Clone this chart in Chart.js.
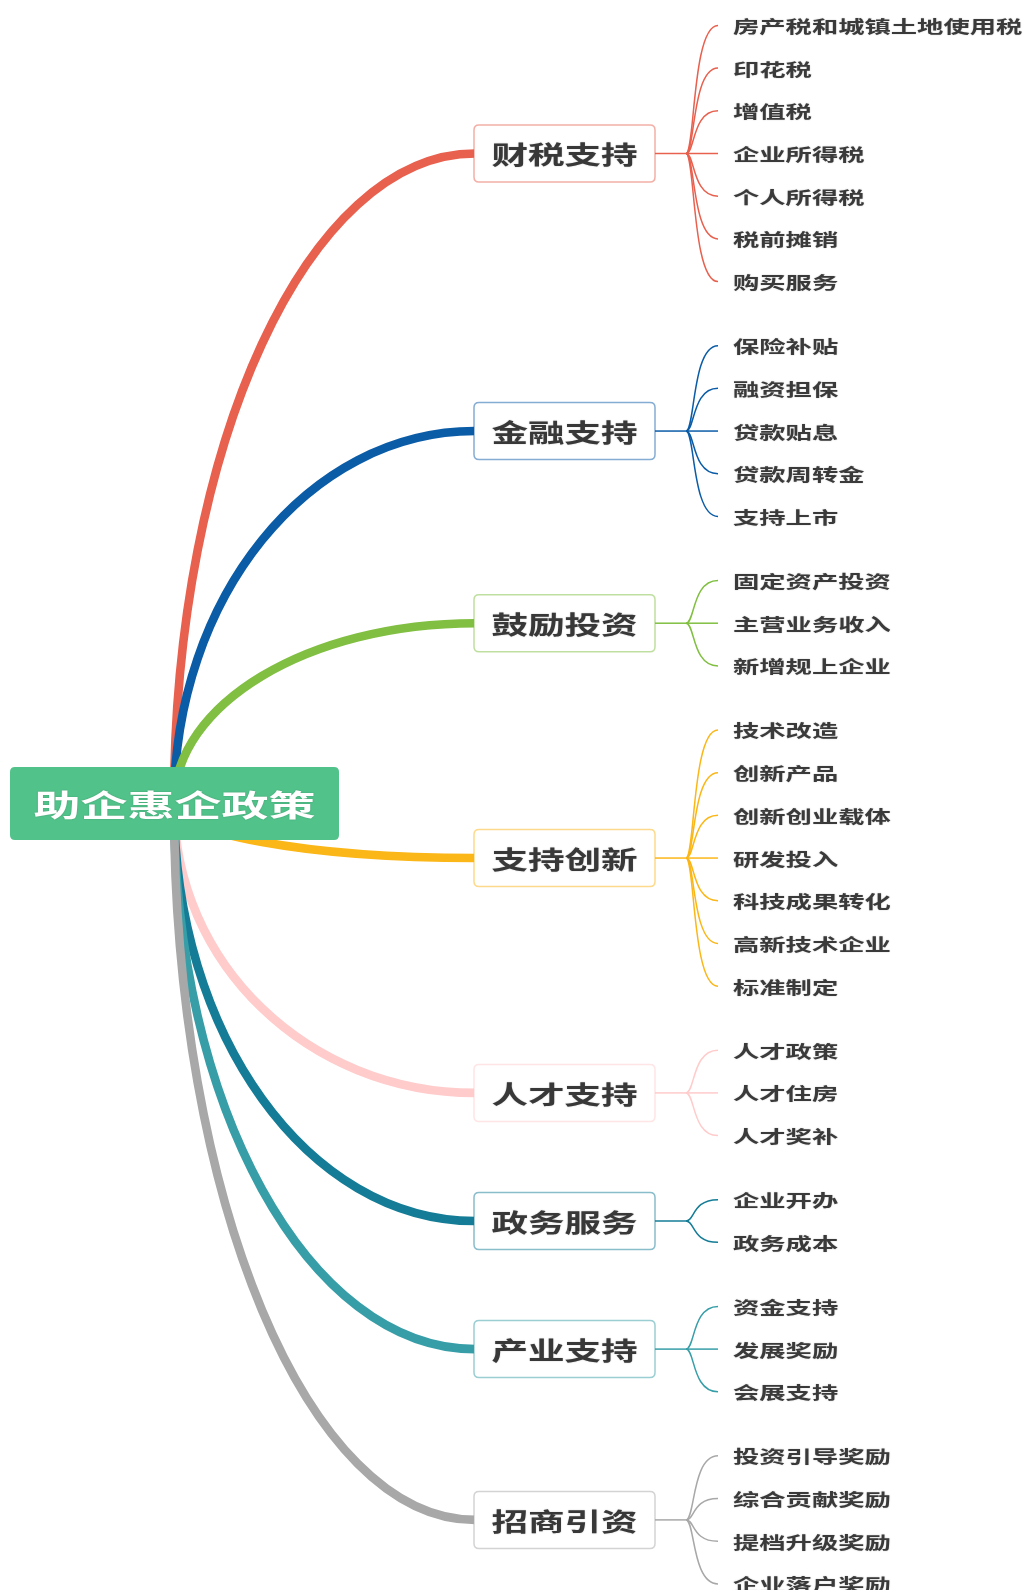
<!DOCTYPE html>
<html>
<head>
<meta charset="utf-8">
<script src="https://cdn.jsdelivr.net/npm/chart.js@4/dist/chart.umd.min.js"></script>
<style>
html,body{margin:0;padding:0;background:#ffffff;}
#wrap{width:1028px;height:1590px;position:relative;}
</style>
</head>
<body>
<div id="wrap"><canvas id="c" width="1028" height="1590"></canvas></div>
<script>
// ---- data ----
const rootLabel = '助企惠企政策';
const branchLabels = ['财税支持', '金融支持', '鼓励投资', '支持创新', '人才支持', '政务服务', '产业支持', '招商引资'];
const branchColors = ['#e8604e', '#0b5ca7', '#80bf41', '#fbb617', '#ffcbcb', '#147c96', '#379ea8', '#a8a8a8'];
const leaves1 = ['房产税和城镇土地使用税', '印花税', '增值税', '企业所得税', '个人所得税', '税前摊销', '购买服务'];
const leaves2 = ['保险补贴', '融资担保', '贷款贴息', '贷款周转金', '支持上市'];
const leaves3 = ['固定资产投资', '主营业务收入', '新增规上企业'];
const leaves4 = ['技术改造', '创新产品', '创新创业载体', '研发投入', '科技成果转化', '高新技术企业', '标准制定'];
const leaves5 = ['人才政策', '人才住房', '人才奖补'];
const leaves6 = ['企业开办', '政务成本'];
const leaves7 = ['资金支持', '发展奖励', '会展支持'];
const leaves8 = ['投资引导奖励', '综合贡献奖励', '提档升级奖励', '企业落户奖励'];
const leafGroups = [leaves1, leaves2, leaves3, leaves4, leaves5, leaves6, leaves7, leaves8];

// ---- layout (in scale units) ----
const L = {
  rootX0: 10, rootX1: 339, rootY0: 767, rootY1: 840,
  curveStartX: 174,
  boxX0: 474, boxX1: 655, boxH: 57,
  junctionX: 686, leafEndX: 718, leafTextX: 733,
  leafTop: 25.4, leafStep: 42.7, groupExtra: 0.5
};

function computeLayout() {
  let row = 0;
  const groups = [];
  leafGroups.forEach(g => {
    const ys = [];
    g.forEach(() => { ys.push(L.leafTop + row * L.leafStep); row++; });
    row += L.groupExtra;
    groups.push({ ys: ys, by: (ys[0] + ys[ys.length - 1]) / 2 });
  });
  return groups;
}

function hexA(hex, a) {
  const n = parseInt(hex.slice(1), 16);
  return `rgba(${(n >> 16) & 255},${(n >> 8) & 255},${n & 255},${a})`;
}

const FONT = '"Noto Sans CJK SC", "Noto Sans", sans-serif';

function drawText(ctx, t, px, py, size, color, sx, align) {
  ctx.save();
  ctx.font = `bold ${size}px ${FONT}`;
  ctx.fillStyle = color;
  ctx.textBaseline = 'middle';
  ctx.textAlign = 'left';
  const w = ctx.measureText(t).width * sx;
  const left = align === 'center' ? px - w / 2 : px;
  ctx.translate(left, py);
  ctx.scale(sx, 1);
  ctx.shadowColor = 'rgba(0,0,0,0.25)';
  ctx.shadowBlur = 1.5;
  ctx.fillText(t, 0, 0);
  ctx.restore();
}

function roundRect(ctx, x0, y0, x1, y1, r) {
  ctx.beginPath();
  ctx.moveTo(x0 + r, y0);
  ctx.lineTo(x1 - r, y0);
  ctx.quadraticCurveTo(x1, y0, x1, y0 + r);
  ctx.lineTo(x1, y1 - r);
  ctx.quadraticCurveTo(x1, y1, x1 - r, y1);
  ctx.lineTo(x0 + r, y1);
  ctx.quadraticCurveTo(x0, y1, x0, y1 - r);
  ctx.lineTo(x0, y0 + r);
  ctx.quadraticCurveTo(x0, y0, x0 + r, y0);
  ctx.closePath();
}

const mindmap = {
  id: 'mindmap',
  afterDraw(chart) {
    const ctx = chart.ctx;
    const xs = chart.scales.x, ys = chart.scales.y;
    const X = v => xs.getPixelForValue(v);
    const Y = v => ys.getPixelForValue(v);
    const groups = computeLayout();
    const k = 0.5523;
    const sx0 = X(L.curveStartX), sy0 = Y((L.rootY0 + L.rootY1) / 2);

    // main branch curves (quarter ellipse)
    ctx.save();
    ctx.lineCap = 'butt';
    groups.forEach((g, i) => {
      const ex = X(L.boxX0), ey = Y(g.by);
      ctx.strokeStyle = branchColors[i];
      ctx.lineWidth = 8.6;
      ctx.beginPath();
      ctx.moveTo(sx0, sy0);
      ctx.bezierCurveTo(sx0, sy0 + (ey - sy0) * k, ex - (ex - sx0) * k, ey, ex + 1, ey);
      ctx.stroke();
    });
    ctx.restore();

    // root box
    ctx.save();
    roundRect(ctx, X(L.rootX0), Y(L.rootY0), X(L.rootX1), Y(L.rootY1), 5);
    ctx.fillStyle = '#51c28a';
    ctx.fill();
    ctx.restore();
    drawText(ctx, rootLabel, X((L.rootX0 + L.rootX1) / 2), Y((L.rootY0 + L.rootY1) / 2) + 1, 29.4, '#ffffff', 1.6, 'center');

    // branches and leaves
    groups.forEach((g, i) => {
      const col = branchColors[i];
      const by = Y(g.by);
      // leaf connectors
      ctx.save();
      ctx.strokeStyle = col;
      ctx.lineWidth = 1.5;
      ctx.beginPath();
      ctx.moveTo(X(L.boxX1), by);
      ctx.lineTo(X(L.junctionX), by);
      ctx.stroke();
      const jx = X(L.junctionX), ex = X(L.leafEndX);
      g.ys.forEach(v => {
        const ly = Y(v);
        ctx.beginPath();
        ctx.moveTo(jx, by);
        if (Math.abs(ly - by) < 1) {
          ctx.lineTo(ex, ly);
        } else {
          ctx.bezierCurveTo(jx + 9, by, jx + 6, ly, ex, ly);
        }
        ctx.stroke();
      });
      ctx.restore();

      // branch box
      ctx.save();
      roundRect(ctx, X(L.boxX0), by - L.boxH / 2, X(L.boxX1), by + L.boxH / 2, 5);
      ctx.fillStyle = '#ffffff';
      ctx.fill();
      ctx.strokeStyle = hexA(col, 0.5);
      ctx.lineWidth = 1.5;
      ctx.stroke();
      ctx.restore();
      drawText(ctx, branchLabels[i], X((L.boxX0 + L.boxX1) / 2), by + 1, 25.4, '#383838', 1.44, 'center');

      // leaf texts
      leafGroups[i].forEach((t, j) => {
        drawText(ctx, t, X(L.leafTextX), Y(g.ys[j]) + 1, 17.2, '#3a3a3a', 1.53, 'left');
      });
    });
  }
};

new Chart(document.getElementById('c'), {
  type: 'scatter',
  data: { datasets: [{ data: [], pointRadius: 0 }] },
  options: {
    responsive: false,
    animation: false,
    devicePixelRatio: 1,
    layout: { padding: 0 },
    plugins: { legend: { display: false }, tooltip: { enabled: false }, title: { display: false } },
    scales: {
      x: { type: 'linear', min: 0, max: 1028, display: false },
      y: { type: 'linear', min: 0, max: 1590, reverse: true, display: false }
    }
  },
  plugins: [mindmap]
});
</script>
</body>
</html>
